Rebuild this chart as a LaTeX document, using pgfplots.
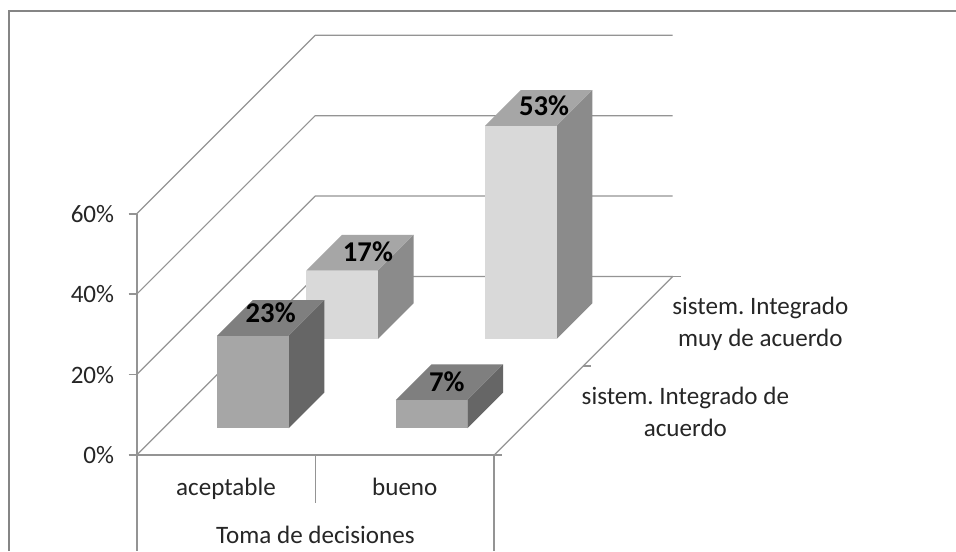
\documentclass[border=0pt]{standalone}
\usepackage{pgfplots}
\usepackage{fontspec}
\pgfplotsset{compat=1.18}
\setmainfont{Carlito}
\frenchspacing

\definecolor{gridgray}{gray}{0.58}
\definecolor{framegray}{gray}{0.52}
\definecolor{labelgray}{gray}{0.15}

% series colours: front, top and side faces of each row of columns
\definecolor{rowAfront}{HTML}{A6A6A6}
\definecolor{rowAtop}{HTML}{7F7F7F}
\definecolor{rowAside}{HTML}{666666}
\definecolor{rowBfront}{HTML}{D9D9D9}
\definecolor{rowBtop}{HTML}{A6A6A6}
\definecolor{rowBside}{HTML}{8B8B8B}

% \column{x left}{x right}{y front}{y back}{value}{front}{top}{side}
\newcommand{\column}[8]{%
  \addplot3[fill=#8,draw=none] coordinates {(#2,#3,0) (#2,#4,0) (#2,#4,#5) (#2,#3,#5)};
  \addplot3[fill=#7,draw=none] coordinates {(#1,#3,#5) (#2,#3,#5) (#2,#4,#5) (#1,#4,#5)};
  \addplot3[fill=#6,draw=none] coordinates {(#1,#3,0) (#2,#3,0) (#2,#3,#5) (#1,#3,#5)};
}

\begin{document}
\begin{tikzpicture}[x=0.75pt,y=0.75pt]
  \path[use as bounding box] (0,0) rectangle (956,551);
  \fill[white] (0,0) rectangle (956,551);
  % chart area border, open at the bottom and right edges
  \draw[framegray,line width=1.8pt] (9.2,0) -- (9.2,539.8) -- (956,539.8);

  \begin{axis}[
    at={(102.5pt,72pt)}, anchor=origin,
    x={(134.06pt,0pt)}, y={(66.94pt,66.94pt)}, z={(0pt,3.015pt)},
    xmin=0, xmax=2, ymin=0, ymax=2, zmin=0, zmax=60,
    hide axis, clip=false, no marks,
    every axis plot/.append style={line join=round},
  ]
    % walls and floor
    \addplot3[gridgray,line width=0.9pt] coordinates {(0,0,60) (0,2,60) (2,2,60)};
    \addplot3[gridgray,line width=0.9pt] coordinates {(0,0,40) (0,2,40) (2,2,40)};
    \addplot3[gridgray,line width=0.9pt] coordinates {(0,0,20) (0,2,20) (2,2,20)};
    \addplot3[gridgray,line width=0.9pt] coordinates {(0,0,0) (0,2,0) (2,2,0) (2,0,0)};
    \addplot3[gridgray,line width=1.3pt] coordinates {(0,0,60) (0,0,-23.9)};
    \addplot3[gridgray,line width=1.3pt] coordinates {(0,0,0) (2,0,0)};
    \addplot3[gridgray,line width=1.3pt] coordinates {(1,0,0) (1,0,-12)};
    \addplot3[gridgray,line width=1.3pt] coordinates {(2,0,0) (2,0,-23.9)};
    % tick marks
    \addplot3[gridgray,line width=1.3pt] coordinates {(-0.045,0,60) (0,0,60)};
    \addplot3[gridgray,line width=1.3pt] coordinates {(-0.045,0,40) (0,0,40)};
    \addplot3[gridgray,line width=1.3pt] coordinates {(-0.045,0,20) (0,0,20)};
    \addplot3[gridgray,line width=1.3pt] coordinates {(-0.045,0,0) (0,0,0)};
    \addplot3[gridgray,line width=1.3pt] coordinates {(2,0,0) (2.045,0,0)};
    \addplot3[gridgray,line width=1.3pt] coordinates {(2,1,0) (2.045,1,0)};
    \addplot3[gridgray,line width=1.3pt] coordinates {(2,2,0) (2.045,2,0)};

    % back row, then front row
    \column{0.3}{0.7}{1.3}{1.7}{17}{rowBfront}{rowBtop}{rowBside}
    \column{1.3}{1.7}{1.3}{1.7}{53}{rowBfront}{rowBtop}{rowBside}
    \column{0.3}{0.7}{0.3}{0.7}{23}{rowAfront}{rowAtop}{rowAside}
    \column{1.3}{1.7}{0.3}{0.7}{7}{rowAfront}{rowAtop}{rowAside}

    % value labels on the column tops
    \begin{scope}[font=\fontsize{21.5}{24}\selectfont\bfseries,text=black]
      \node at (axis cs:0.5,1.5,17) [xshift=6pt,yshift=0.7pt] {17\%};
      \node at (axis cs:1.5,1.5,53) [xshift=4pt,yshift=1.5pt] {53\%};
      \node at (axis cs:0.5,0.5,23) [yshift=3.7pt] {23\%};
      \node at (axis cs:1.5,0.5,7) [xshift=-2pt,yshift=0.7pt] {7\%};
    \end{scope}

    % axis texts
    \begin{scope}[font=\fontsize{18.8}{24}\selectfont,text=labelgray]
      \node[anchor=east] at (axis cs:-0.1,0,60) {60\%};
      \node[anchor=east] at (axis cs:-0.1,0,40) {40\%};
      \node[anchor=east] at (axis cs:-0.1,0,20) {20\%};
      \node[anchor=east] at (axis cs:-0.1,0,0) {0\%};
      \node[anchor=base] at (axis cs:0.5,0,-9.95) {aceptable};
      \node[anchor=base] at (axis cs:1.5,0,-9.95) {bueno};
      \node[anchor=base] at (axis cs:1,0,-21.9) {Toma de decisiones};
      \node[align=center,yshift=-2pt] at (axis cs:2.74,1.5,0) {sistem. Integrado\\muy de acuerdo};
      \node[align=center,yshift=-1.5pt] at (axis cs:2.82,0.5,0) {sistem. Integrado de\\acuerdo};
    \end{scope}
  \end{axis}
\end{tikzpicture}
\end{document}
